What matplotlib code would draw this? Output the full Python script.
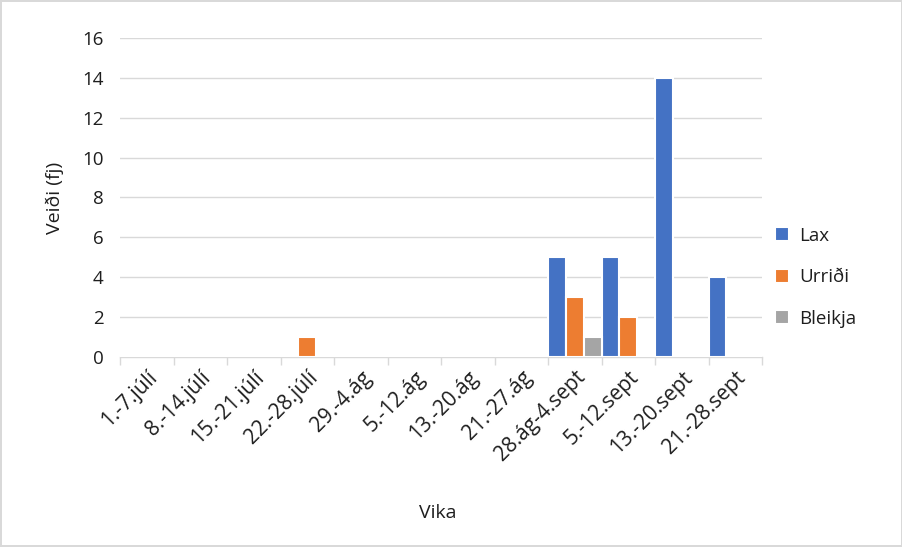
import matplotlib.pyplot as plt
import numpy as np

plt.rcParams['font.family'] = ['Open Sans', 'DejaVu Sans']

vikur = ["1.-7.júlí", "8.-14.júlí", "15.-21.júlí", "22.-28.júlí", "29.-4.ág",
         "5.-12.ág", "13.-20.ág", "21.-27.ág", "28.ág-4.sept", "5.-12.sept",
         "13.-20.sept", "21.-28.sept"]
lax = [0, 0, 0, 0, 0, 0, 0, 0, 5, 5, 14, 4]
urridi = [0, 0, 0, 1, 0, 0, 0, 0, 3, 2, 0, 0]
bleikja = [0, 0, 0, 0, 0, 0, 0, 0, 1, 0, 0, 0]

texti = "#1e1e1e"

fig = plt.figure(figsize=(9.03, 5.47), dpi=100)
fig.patch.set_edgecolor("#D9D9D9")
fig.patch.set_linewidth(1.5)
ax = fig.add_axes([0.133, 0.347, 0.711, 0.584])

x = np.arange(len(vikur))
w = 1 / 3
for i, (vals, nafn, litur) in enumerate([(lax, "Lax", "#4472C4"),
                                          (urridi, "Urriði", "#ED7D31"),
                                          (bleikja, "Bleikja", "#A5A5A5")]):
    ax.bar(x + (i - 1) * w, vals, width=w, color=litur, edgecolor="white",
           linewidth=1.5, label=nafn, zorder=3)

ax.set_xlim(-0.5, len(vikur) - 0.5)
ax.set_ylim(0, 16)
ax.set_yticks(range(0, 17, 2))
ax.grid(axis="y", color="#D9D9D9", linewidth=1, zorder=0)
for s in ["top", "right", "left"]:
    ax.spines[s].set_visible(False)
ax.spines["bottom"].set_color("#D9D9D9")
ax.spines["bottom"].set_linewidth(1)

ax.set_xticks(x)
ax.set_xticklabels(vikur, rotation=45, ha="right", rotation_mode="anchor",
                   fontsize=15, color=texti)
ax.set_xticks(np.arange(-0.5, len(vikur)), minor=True)
ax.tick_params(axis="x", which="major", length=0, pad=7)
ax.tick_params(axis="x", which="minor", length=6, color="#D9D9D9", width=1)
ax.tick_params(axis="y", length=0, labelsize=13.5, labelcolor=texti, pad=12)

ax.set_ylabel("Veiði (fj)", fontsize=14, color=texti)
ax.yaxis.set_label_coords(-0.087, 0.5)
ax.set_xlabel("Vika", fontsize=14, color=texti)
ax.xaxis.set_label_coords(0.495, -0.46)

fig.legend(loc="center left", bbox_to_anchor=(0.84, 0.493), frameon=False,
           fontsize=13.5, labelcolor=texti, handlelength=0.75, handleheight=0.75,
           labelspacing=1.25, handletextpad=0.5)

plt.savefig("out.png", dpi=100)
